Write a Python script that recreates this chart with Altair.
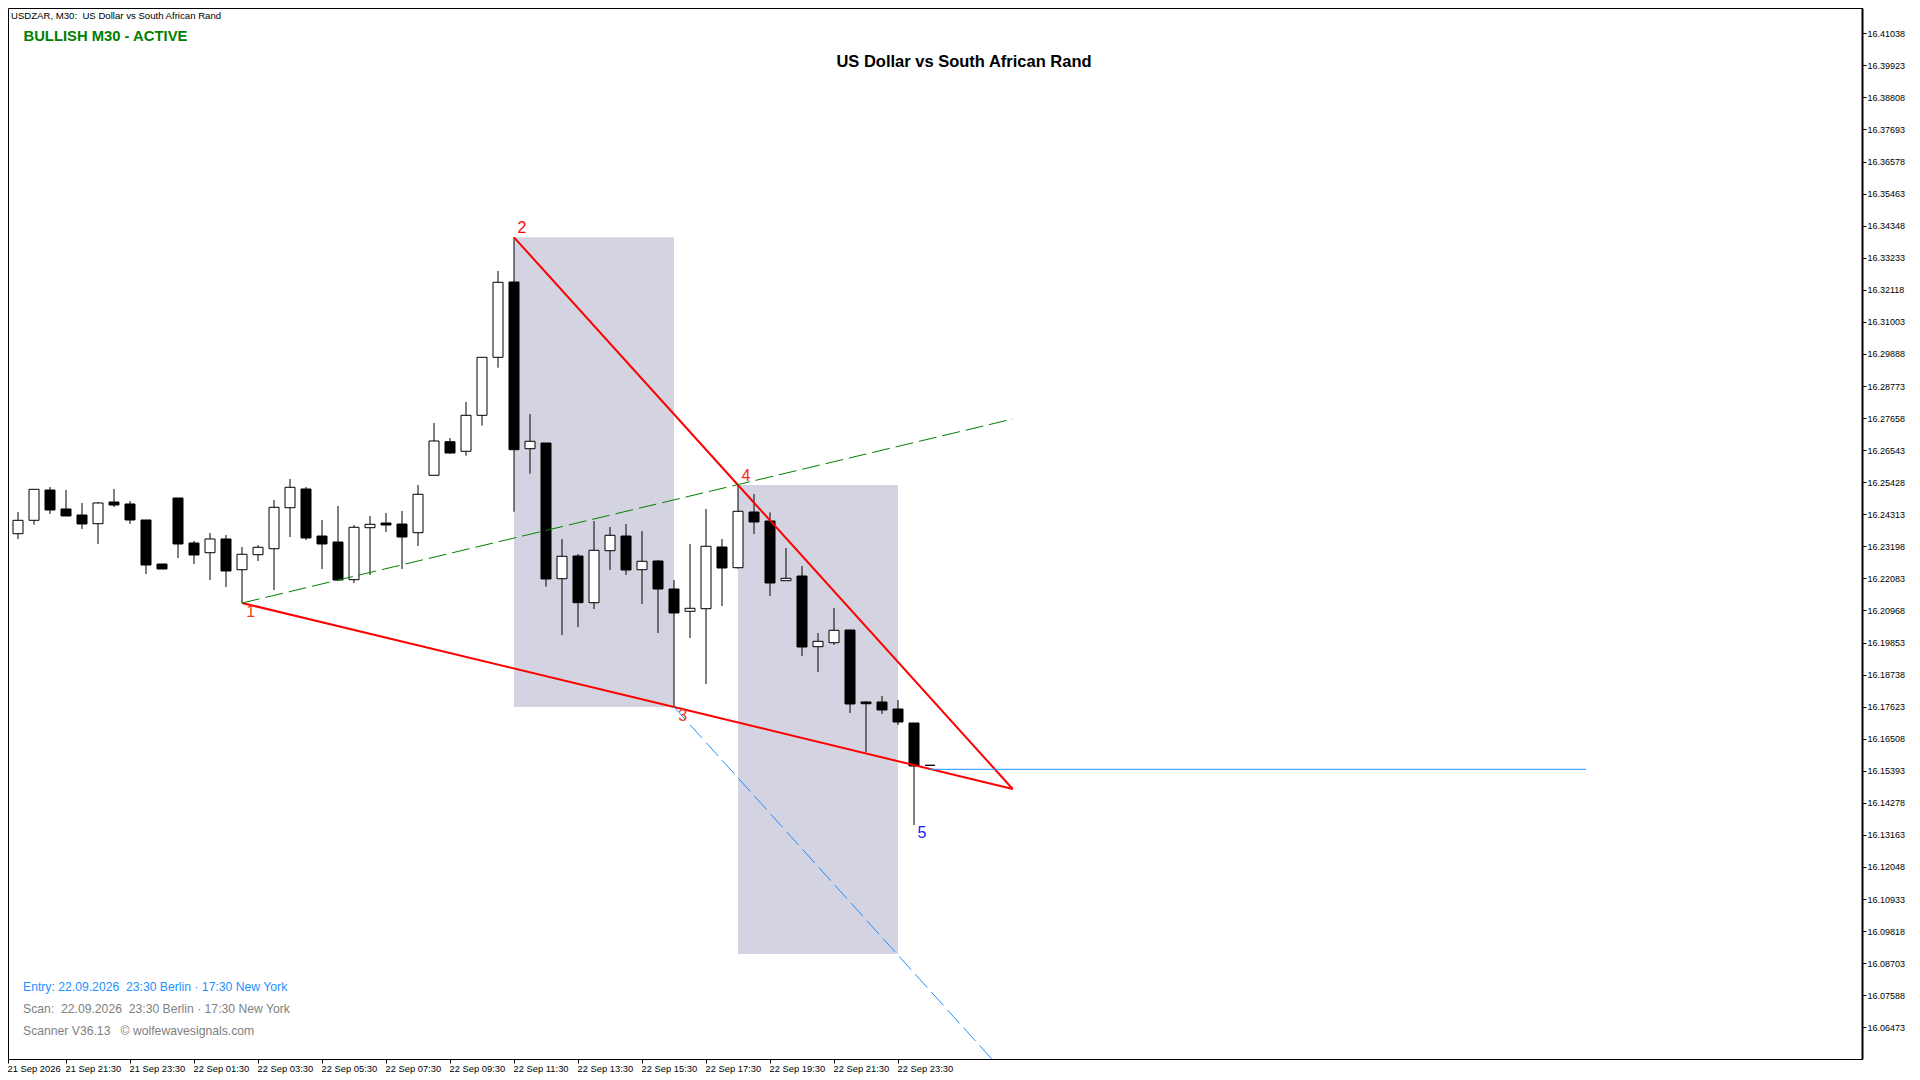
import json

import altair as alt
import pandas as pd

# candles, one per 30 minutes, first one sits on the 21 Sep 2026 tick
opens = [16.23025, 16.23637, 16.24103, 16.25157, 16.24496, 16.24287, 16.23985, 16.24739, 16.24670, 16.24114,
         16.22583, 16.24879, 16.23314, 16.22976, 16.23453, 16.22385, 16.22907, 16.23115, 16.24541, 16.25192,
         16.23557, 16.23348, 16.22038, 16.23846, 16.24009, 16.23974, 16.23672, 16.25668, 16.26836, 16.26503,
         16.27754, 16.29771, 16.32390, 16.26593, 16.26791, 16.22072, 16.22862, 16.21238, 16.23046, 16.23557,
         16.22385, 16.22688, 16.21714, 16.20939, 16.21029, 16.23175, 16.22455, 16.24392, 16.24079, 16.22003,
         16.22166, 16.19708, 16.19847, 16.20288, 16.17785, 16.17785, 16.17541, 16.17054, 16.15583]
highs = [16.23651, 16.24392, 16.25181, 16.25261, 16.25157, 16.24705, 16.24739, 16.25192, 16.24774, 16.24114,
         16.22583, 16.24879, 16.23383, 16.23661, 16.23592, 16.23175, 16.23244, 16.24809, 16.25539, 16.25261,
         16.24114, 16.24600, 16.23940, 16.24253, 16.24357, 16.24426, 16.25331, 16.27487, 16.26965, 16.28217,
         16.29771, 16.32772, 16.33944, 16.27800, 16.26791, 16.23453, 16.22931, 16.24079, 16.23870, 16.23974,
         16.23731, 16.22723, 16.22027, 16.23279, 16.24496, 16.23453, 16.25331, 16.25018, 16.24381, 16.23140,
         16.22514, 16.20184, 16.21053, 16.20288, 16.17819, 16.17993, 16.17854, 16.17054, 16.15583]
lows = [16.23025, 16.23453, 16.23950, 16.24322, 16.24253, 16.23801, 16.23279, 16.24566, 16.23974, 16.22236,
        16.22410, 16.22792, 16.22583, 16.22027, 16.21784, 16.21227, 16.22688, 16.21679, 16.23522, 16.23418,
        16.22410, 16.21992, 16.21923, 16.22201, 16.23696, 16.22410, 16.23209, 16.25668, 16.26419, 16.26349,
        16.27393, 16.29410, 16.24402, 16.25724, 16.21794, 16.20115, 16.20393, 16.21019, 16.22375, 16.22201,
        16.21193, 16.20184, 16.17611, 16.20010, 16.18411, 16.21123, 16.22420, 16.23627, 16.21471, 16.22003,
        16.19384, 16.18828, 16.19767, 16.17402, 16.16046, 16.17367, 16.16985, 16.13507, 16.15583]
closes = [16.23651, 16.24103, 16.25181, 16.24461, 16.24253, 16.23974, 16.24705, 16.24635, 16.24114, 16.22549,
          16.22410, 16.23279, 16.22896, 16.23453, 16.22340, 16.22921, 16.23164, 16.24555, 16.25251, 16.23488,
          16.23279, 16.22027, 16.23860, 16.23964, 16.23940, 16.23522, 16.25007, 16.26861, 16.26443, 16.27754,
          16.29771, 16.32379, 16.26558, 16.26850, 16.22062, 16.22851, 16.21238, 16.23060, 16.23581, 16.22375,
          16.22677, 16.21714, 16.20880, 16.21043, 16.23199, 16.22444, 16.24416, 16.24044, 16.21923, 16.22086,
          16.19697, 16.19895, 16.20278, 16.17715, 16.17725, 16.17506, 16.17089, 16.15559, 16.15583]

# wolfe wave pattern, x is in candles
wedge_series = ["lower", "lower", "lower", "upper", "upper", "upper"]
wedge_x = [15, 42, 63.17, 32, 46, 63.17]
wedge_y = [16.21227, 16.17611, 16.14759, 16.33944, 16.25331, 16.14759]
green_x = [15, 63.17]
green_y = [16.21227, 16.27626]
blue_dash_x = [42, 61.86]
blue_dash_y = [16.17611, 16.05370]
blue_solid_x = [58, 99]
blue_solid_y = [16.15444, 16.15444]

zone_x = [32, 46]
zone_x2 = [42, 56]
zone_top = [16.33944, 16.25331]
zone_bottom = [16.17611, 16.09022]

wave_labels = ["1", "2", "3", "4", "5"]
wave_x = [15.54, 32.5, 42.54, 46.5, 57.5]
wave_y = [16.20925, 16.34268, 16.17308, 16.25654, 16.13229]
wave_colors = ["#f0401a", "#ff0000", "#f0401a", "#ff2020", "#1a1aff"]

x_ticks = [0.375, 4, 8, 12, 16, 20, 24, 28, 32, 36, 40, 44, 48, 52, 56]
x_tick_labels = ["21 Sep 2026", "21 Sep 21:30", "21 Sep 23:30", "22 Sep 01:30", "22 Sep 03:30",
                 "22 Sep 05:30", "22 Sep 07:30", "22 Sep 09:30", "22 Sep 11:30", "22 Sep 13:30",
                 "22 Sep 15:30", "22 Sep 17:30", "22 Sep 19:30", "22 Sep 21:30", "22 Sep 23:30"]
y_ticks = [16.41038, 16.39923, 16.38808, 16.37693, 16.36578, 16.35463, 16.34348, 16.33233,
           16.32118, 16.31003, 16.29888, 16.28773, 16.27658, 16.26543, 16.25428, 16.24313,
           16.23198, 16.22083, 16.20968, 16.19853, 16.18738, 16.17623, 16.16508, 16.15393,
           16.14278, 16.13163, 16.12048, 16.10933, 16.09818, 16.08703, 16.07588, 16.06473]

FONT = "Liberation Sans"
x_scale = alt.Scale(domain=[0.375, 116.25], nice=False, zero=False, padding=0)
y_scale = alt.Scale(domain=[16.05370, 16.41918], nice=False, zero=False, padding=0)

candles = pd.DataFrame({"i": range(len(opens)), "open": opens, "high": highs, "low": lows, "close": closes})
candles["dir"] = ["up" if c >= o else "down" for o, c in zip(opens, closes)]

x_axis = alt.Axis(
    values=x_ticks,
    labelExpr=json.dumps(x_tick_labels) + "[round(datum.value / 4)]",
    labelAlign="left",
    labelFont=FONT,
    labelFontSize=9.4,
    labelColor="black",
    labelPadding=1,
    labelOffset=-1,
    labelOverlap=False,
    labelFlush=False,
    tickColor="black",
    tickSize=4,
    domain=False,
    grid=False,
)
y_axis = alt.Axis(
    orient="right",
    values=y_ticks,
    format=".5f",
    labelFont=FONT,
    labelFontSize=9,
    labelColor="black",
    labelPadding=1,
    labelOverlap=False,
    tickColor="black",
    tickSize=4,
    domainColor="black",
    domainWidth=2,
    grid=False,
)


def pos_x(field):
    return alt.X(field, scale=x_scale, title=None, axis=x_axis)


def pos_y(field):
    return alt.Y(field, scale=y_scale, title=None, axis=y_axis)


zones = (
    alt.Chart(pd.DataFrame({"x": zone_x, "x2": zone_x2, "top": zone_top, "bottom": zone_bottom}))
    .mark_rect(color="#d3d3e1")
    .encode(x=pos_x("x:Q"), x2="x2:Q", y=pos_y("top:Q"), y2="bottom:Q")
)

wicks = (
    alt.Chart(candles)
    .mark_rule(color="black", strokeWidth=1, clip=True)
    .encode(x=pos_x("i:Q"), y=pos_y("low:Q"), y2="high:Q")
)

bodies = (
    alt.Chart(candles)
    .mark_bar(size=10, stroke="black", strokeWidth=1, orient="vertical", clip=True)
    .encode(
        x=pos_x("i:Q"),
        y=pos_y("open:Q"),
        y2="close:Q",
        color=alt.Color("dir:N", scale=alt.Scale(domain=["up", "down"], range=["white", "black"]), legend=None),
    )
)

wedge = (
    alt.Chart(pd.DataFrame({"series": wedge_series, "x": wedge_x, "y": wedge_y}))
    .mark_line(color="#ff0000", strokeWidth=2, clip=True)
    .encode(x=pos_x("x:Q"), y=pos_y("y:Q"), detail="series:N")
)


def thin_line(xs, ys, color, dash=None):
    mark = {"color": color, "strokeWidth": 1, "clip": True}
    if dash:
        mark["strokeDash"] = dash
    return (
        alt.Chart(pd.DataFrame({"x": xs, "y": ys}))
        .mark_line(**mark)
        .encode(x=pos_x("x:Q"), y=pos_y("y:Q"))
    )


green_line = thin_line(green_x, green_y, "#008000", [18, 6])
blue_dash = thin_line(blue_dash_x, blue_dash_y, "#1e90ff", [18, 6])
blue_solid = thin_line(blue_solid_x, blue_solid_y, "#1e90ff")

wave_text = (
    alt.Chart(pd.DataFrame({"t": wave_labels, "x": wave_x, "y": wave_y, "c": wave_colors}))
    .mark_text(font=FONT, fontSize=16, align="center", baseline="middle")
    .encode(
        x=pos_x("x:Q"),
        y=pos_y("y:Q"),
        text="t:N",
        color=alt.Color("c:N", scale=None),
    )
)


def label(text, x, y, color, size, bold=False, align="left"):
    return (
        alt.Chart(pd.DataFrame({"t": [text]}))
        .mark_text(font=FONT, fontSize=size, fontWeight="bold" if bold else "normal", align=align,
                   baseline="middle", color=color)
        .encode(x=alt.value(x), y=alt.value(y), text="t:N")
    )


NB = "\u00a0"
texts = [
    label(f"USDZAR, M30:{NB}{NB}US Dollar vs South African Rand", 3, 7.5, "black", 9.6),
    label("BULLISH M30 - ACTIVE", 15.5, 29, "#008000", 14.8, bold=True),
    label("US Dollar vs South African Rand", 956, 54, "black", 16.5, bold=True, align="center"),
    label(f"Entry: 22.09.2026{NB}{NB}23:30 Berlin · 17:30 New York", 15, 979, "#1e90ff", 12.2),
    label(f"Scan:{NB}{NB}22.09.2026{NB}{NB}23:30 Berlin · 17:30 New York", 15, 1001, "#808080", 12.2),
    label(f"Scanner V36.13{NB}{NB} © wolfewavesignals.com", 15, 1023, "#808080", 12.2),
]

chart = (
    alt.layer(zones, wicks, bodies, wedge, green_line, blue_dash, blue_solid, wave_text, *texts)
    .properties(
        width=1854,
        height=1051,
        autosize=alt.AutoSizeParams(type="none"),
        padding={"left": 0, "top": 0, "right": 50, "bottom": 20},
    )
    .configure_view(stroke="black", strokeWidth=1)
)

chart.save("out.html", embed_options={"renderer": "svg", "actions": False})
